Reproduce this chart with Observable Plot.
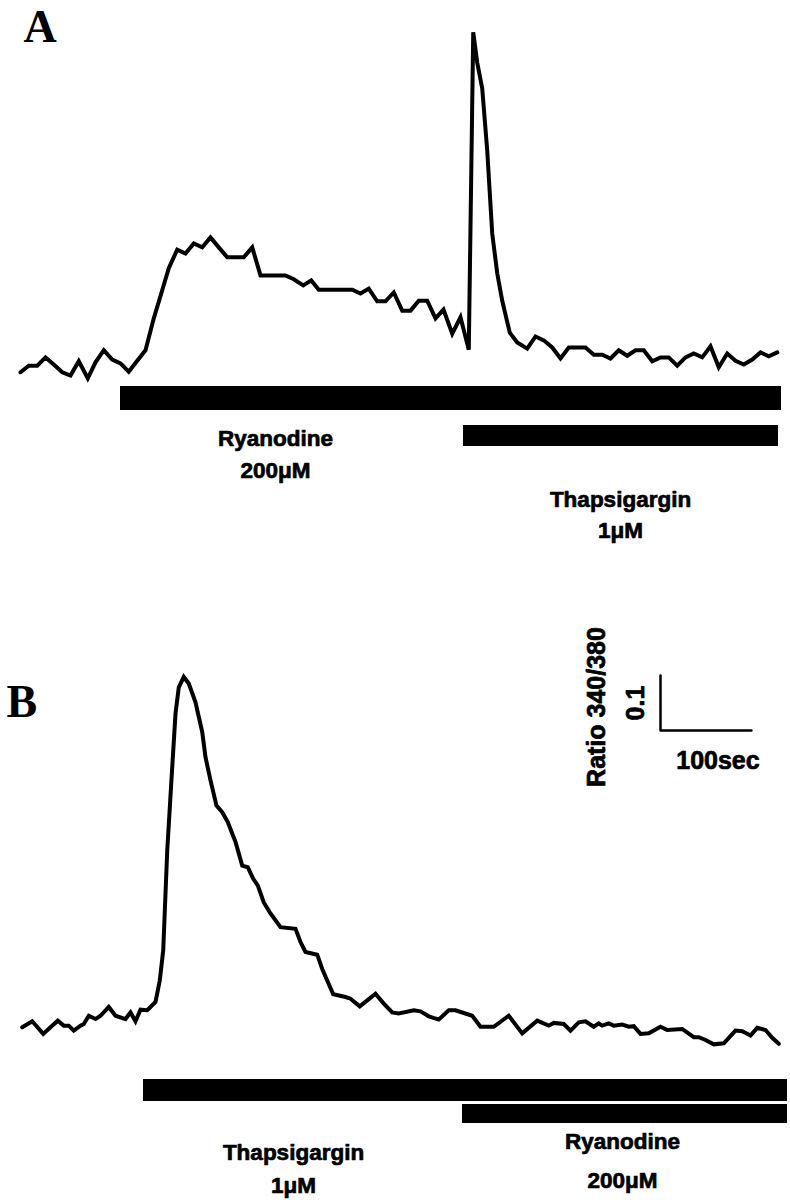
<!DOCTYPE html>
<html><head><meta charset="utf-8">
<script src="https://cdn.jsdelivr.net/npm/d3@7"></script>
<script src="https://cdn.jsdelivr.net/npm/@observablehq/plot@0.6"></script>
<style>body{margin:0;background:#fff} svg{display:block}</style>
</head><body><div id="chart"></div>
<script>
// Panel A trace: time (s) and fura-2 ratio 340/380
const timeA = [0,9.1,18.4,27.5,36.6,45.9,55,64.1,74,82.5,91.6,100.9,110,119.1,128.4,137.5,146.6,155.9,163.1,172.4,181.5,190.6,199.9,209,218.1,227.4,245.6,254.9,264,291.5,300.6,311,319.8,328.1,364.9,374,383.1,392.4,401.5,410.6,419.9,429,438.1,447.4,456.5,465.3,474.9,484,493.1,498,502.4,507.9,513.4,518.9,524.4,529.9,538.2,546.4,557.4,566.5,575.6,584.9,594,603.1,621.5,630.6,639.9,649,658.1,667.4,676.5,685.6,694.9,704,713.1,722.4,731.5,740.6,749.9,759,768.1,777.4,786.5,795.6,804.9,814,823.1,832.4];
const ratioA = [0.315,0.327,0.327,0.342,0.329,0.315,0.309,0.335,0.304,0.333,0.355,0.338,0.331,0.316,0.336,0.355,0.413,0.464,0.504,0.538,0.531,0.549,0.542,0.560,0.542,0.524,0.524,0.542,0.491,0.491,0.484,0.473,0.482,0.465,0.465,0.458,0.467,0.444,0.444,0.460,0.427,0.427,0.445,0.445,0.413,0.429,0.385,0.415,0.356,0.933,0.878,0.831,0.718,0.567,0.495,0.445,0.387,0.369,0.358,0.380,0.373,0.360,0.340,0.360,0.360,0.347,0.347,0.340,0.355,0.345,0.355,0.355,0.335,0.342,0.342,0.327,0.342,0.349,0.342,0.362,0.324,0.349,0.336,0.329,0.338,0.351,0.344,0.351];

// Panel B trace
const timeB = [1.9,12.9,25,33,41,47.6,53.1,58.6,66,69.6,75.1,82.5,88,97.1,104.5,115.5,121,126.5,132,139.4,148.5,153.2,157,161.4,165.8,170.5,174.1,179.6,185.1,192.5,199.9,203.5,209,215.6,221.9,228,236.5,243.9,250,256,261,267.6,275,286,302.5,308,313.5,326.4,331.9,344,357.5,363,373.2,381.4,390.5,399.6,408.9,416.1,432.6,440,449.1,460.1,471.1,478.5,496.9,506,520.6,537.1,551.9,568.4,581.1,586.6,597.6,605,614.1,621.5,630.6,636.1,639.9,647.1,652.6,661.9,669.1,674.6,682,691.1,704,711.4,727.9,740.6,746.1,753.5,762.6,773.6,786.5,793.9,803,810.4,819.5,826.9,834.1];
const ratioB = [0.324,0.335,0.312,0.324,0.336,0.327,0.327,0.318,0.327,0.330,0.345,0.339,0.345,0.361,0.345,0.339,0.351,0.335,0.356,0.355,0.370,0.409,0.464,0.645,0.767,0.894,0.942,0.961,0.949,0.915,0.861,0.815,0.773,0.727,0.715,0.697,0.661,0.618,0.615,0.594,0.582,0.551,0.531,0.506,0.503,0.479,0.461,0.456,0.430,0.384,0.379,0.376,0.362,0.373,0.385,0.367,0.351,0.349,0.355,0.353,0.344,0.338,0.355,0.355,0.345,0.325,0.325,0.345,0.313,0.336,0.327,0.332,0.330,0.318,0.333,0.335,0.325,0.331,0.327,0.331,0.327,0.329,0.325,0.326,0.312,0.313,0.325,0.319,0.321,0.306,0.306,0.301,0.293,0.295,0.318,0.317,0.309,0.323,0.319,0.305,0.294];

// Drug applications (s)
const drugsA = ["Ryanodine", "Thapsigargin"];
const concA = ["200μM", "1μM"];
const startA = [110, 487.3];
const endA = [837.1, 833.8];

const drugsB = ["Thapsigargin", "Ryanodine"];
const concB = ["1μM", "200μM"];
const startB = [135.3, 486.2];
const endB = [843.7, 843.7];

// Scale bar values
const scaleSec = 100;
const scaleRatio = 0.1;
const scaleLabels = ["100sec", "0.1", "Ratio 340/380"];

// ---------- layout (not data) ----------
const W = 790;
const xDomain = [-22, 847];
const sans = "'Liberation Sans', Arial, Helvetica, sans-serif";
const serif = "'Liberation Serif', 'Times New Roman', serif";
const lab = {fontFamily: sans, fontWeight: "bold", fontSize: 22.5, fill: "black", stroke: "black", strokeWidth: 0.7};
const labBig = {...lab, fontSize: 25};

const traceA = timeA.map((t, i) => ({t, r: ratioA[i]}));
const traceB = timeB.map((t, i) => ({t, r: ratioB[i]}));

function bar(start, end, top, bottom, h) {
  return Plot.rect([{start, end}], {x1: "start", x2: "end", fill: "black", insetTop: top, insetBottom: h - bottom});
}
function label(text, t, y) {
  return Plot.text([text], {x: [t], frameAnchor: "top", dy: y, lineAnchor: "middle", textAnchor: "middle", ...lab});
}

const hA = 560;
const plotA = Plot.plot({
  width: W, height: hA, margin: 0,
  x: {domain: xDomain, axis: null},
  y: {domain: [-0.0273, 0.9909], axis: null},
  marks: [
    Plot.line(traceA, {x: "t", y: "r", stroke: "black", strokeWidth: 4, strokeLinejoin: "miter", strokeMiterlimit: 3}),
    bar(startA[0], endA[0], 386, 410, hA),
    bar(startA[1], endA[1], 425, 446, hA),
    label(drugsA[0], 280.5, 438),
    label(concA[0], 280.5, 470),
    label(drugsA[1], 660, 499),
    label(concA[1], 660, 530),
    Plot.text(["A"], {frameAnchor: "top-left", dx: 23, dy: 27, textAnchor: "start", lineAnchor: "middle", fontFamily: serif, fontWeight: "bold", fontSize: 46, fill: "black"})
  ]
});

const hB = 640;
const t0 = 704, r0 = 0.8636;
const scaleBar = [
  {t: t0, r: r0 + scaleRatio},
  {t: t0, r: r0},
  {t: t0 + scaleSec, r: r0}
];
const plotB = Plot.plot({
  width: W, height: hB, margin: 0,
  x: {domain: xDomain, axis: null},
  y: {domain: [0.0091, 1.1727], axis: null},
  marks: [
    Plot.line(traceB, {x: "t", y: "r", stroke: "black", strokeWidth: 4, strokeLinejoin: "miter", strokeMiterlimit: 3}),
    bar(startB[0], endB[0], 519, 541, hB),
    bar(startB[1], endB[1], 544, 563, hB),
    label(drugsB[0], 300.3, 592),
    label(concB[0], 300.3, 625),
    label(drugsB[1], 662.2, 581),
    label(concB[1], 662.2, 620),
    Plot.line(scaleBar, {x: "t", y: "r", stroke: "black", strokeWidth: 2.5}),
    Plot.text([scaleLabels[0]], {x: [t0 + scaleSec / 2], y: [r0], dx: 12, dy: 30, textAnchor: "middle", lineAnchor: "middle", ...labBig}),
    Plot.text([scaleLabels[1]], {x: [t0], y: [r0 + scaleRatio / 2], dx: -25, rotate: -90, textAnchor: "middle", lineAnchor: "middle", ...labBig}),
    Plot.text([scaleLabels[2]], {x: [t0], y: [r0 + scaleRatio / 2], dx: -64, dy: 4, rotate: -90, textAnchor: "middle", lineAnchor: "middle", ...labBig}),
    Plot.text(["B"], {frameAnchor: "top-left", dx: 6, dy: 142, textAnchor: "start", lineAnchor: "middle", fontFamily: serif, fontWeight: "bold", fontSize: 46, fill: "black"})
  ]
});

const root = document.getElementById("chart");
root.appendChild(plotA);
root.appendChild(plotB);
</script>
</body></html>
